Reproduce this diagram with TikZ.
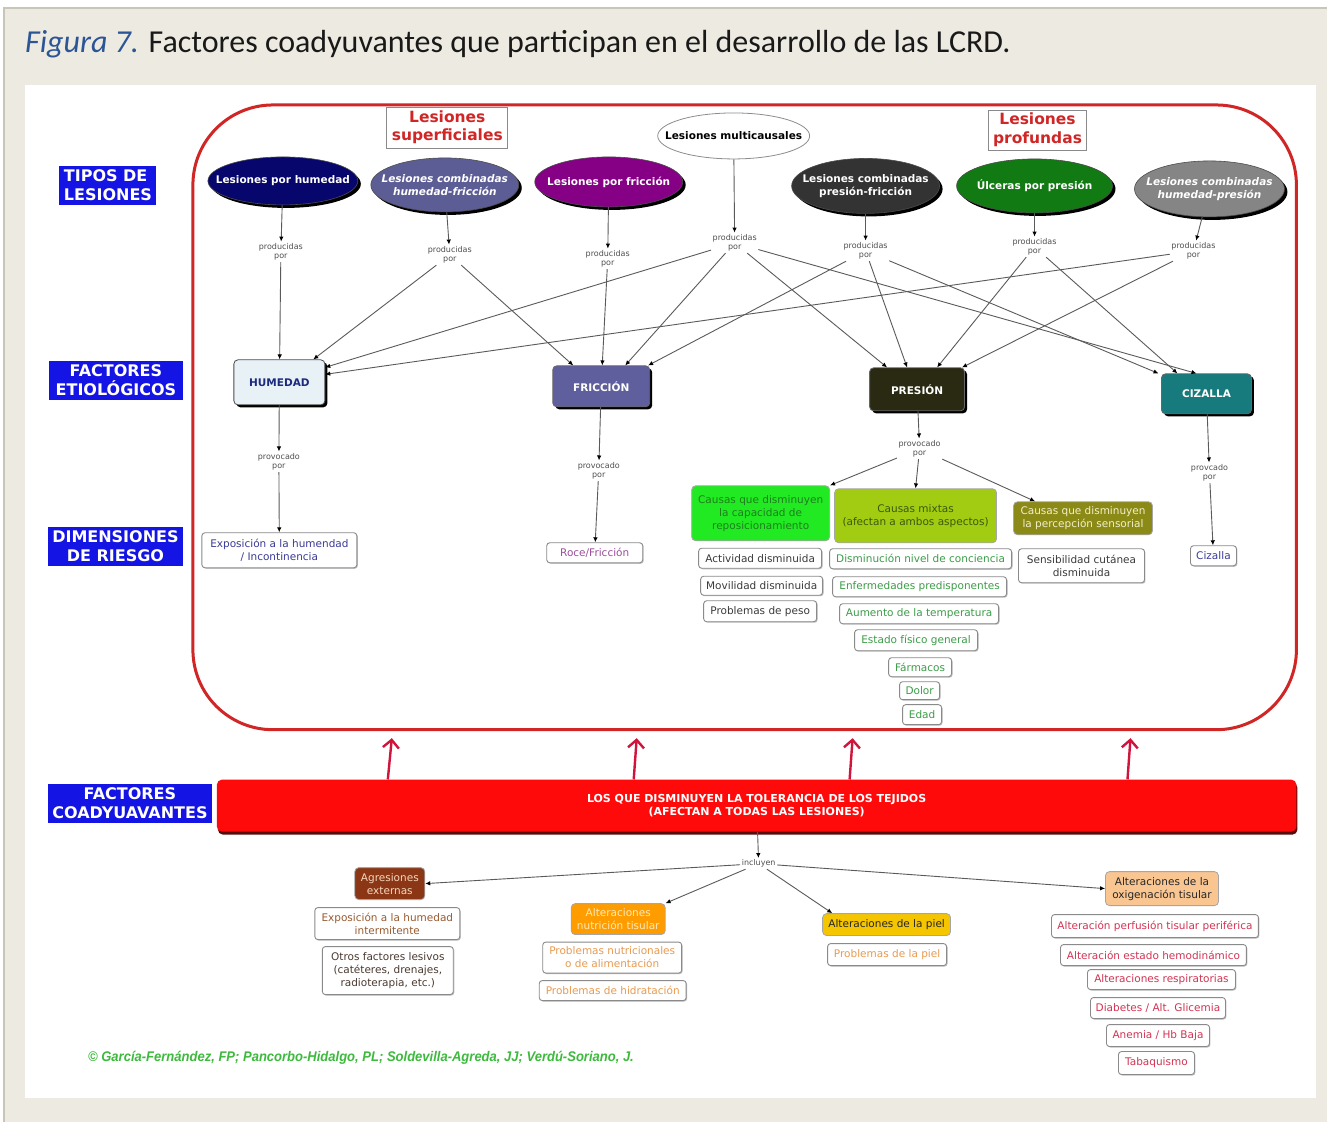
\documentclass[tikz,border=0pt]{standalone}
\usepackage{graphicx}
\usepackage{fontspec}
\setmainfont{DejaVu Sans}
\newfontfamily\captionfont{Carlito}
\newfontfamily\creditfont{Liberation Sans}
\usetikzlibrary{shapes.geometric,arrows.meta,shadows}

\definecolor{pagebg}{HTML}{EDEBE1}
\definecolor{pageedge}{HTML}{C9C6B8}
\definecolor{capblue}{HTML}{2C5596}
\definecolor{frameRed}{HTML}{D02626}
\definecolor{tagblue}{HTML}{1414E4}
\definecolor{linegrey}{HTML}{5A5A5A}
\definecolor{relgrey}{HTML}{505050}
\definecolor{ovHum}{HTML}{06066C}
\definecolor{ovHF}{HTML}{5D5D95}
\definecolor{ovFri}{HTML}{860086}
\definecolor{ovPF}{HTML}{333333}
\definecolor{ovUlc}{HTML}{127A12}
\definecolor{ovHP}{HTML}{858585}
\definecolor{fHumFill}{HTML}{E8F1F5}
\definecolor{fHumText}{HTML}{1C2A80}
\definecolor{fFriFill}{HTML}{5F5F9D}
\definecolor{fPreFill}{HTML}{2A2912}
\definecolor{fCizFill}{HTML}{177B7D}
\definecolor{dimNavy}{HTML}{3A3A96}
\definecolor{roceTxt}{HTML}{9A4E9A}
\definecolor{capGreen}{HTML}{22EA22}
\definecolor{capGreenTxt}{HTML}{1E7E1E}
\definecolor{mixFill}{HTML}{A2CC12}
\definecolor{mixTxt}{HTML}{3A5A0A}
\definecolor{senFill}{HTML}{8C8A16}
\definecolor{senTxt}{HTML}{F2F0C8}
\definecolor{listDark}{HTML}{3A3A3A}
\definecolor{mixList}{HTML}{3C9C48}
\definecolor{boxEdge}{HTML}{8A8A8A}
\definecolor{barRed}{HTML}{FF0A0A}
\definecolor{barShade}{HTML}{5A0A0A}
\definecolor{upRed}{HTML}{D0143C}
\definecolor{agFill}{HTML}{8B3614}
\definecolor{agTxt}{HTML}{F6D6BE}
\definecolor{agList}{HTML}{9A5A30}
\definecolor{agDark}{HTML}{4A3A30}
\definecolor{nuFill}{HTML}{FF9C00}
\definecolor{nuTxt}{HTML}{FFEBB8}
\definecolor{nuList}{HTML}{E89A50}
\definecolor{piFill}{HTML}{F5C500}
\definecolor{oxFill}{HTML}{F9C692}
\definecolor{oxList}{HTML}{D23452}
\definecolor{credGreen}{HTML}{3DBA3D}

\newcommand\fsBox{\fontsize{10.5}{13}\selectfont}
\newcommand\fsBar{\fontsize{11}{13}\selectfont}
\newcommand\fsRel{\fontsize{8}{9.5}\selectfont}
\newcommand\fsTag{\fontsize{16}{19}\selectfont}
\newcommand\fsOval{\fontsize{10.5}{13}\selectfont}
\newcommand\fsRegion{\fontsize{15.5}{18.5}\selectfont}

\tikzset{
  tag/.style={fill=tagblue, text=white, font=\fsTag\bfseries, align=center,
    inner sep=0pt, minimum height=39pt},
  region/.style={draw=boxEdge, fill=white, text=frameRed, font=\fsRegion\bfseries,
    align=center, inner sep=0pt, line width=0.8pt},
  ovalbase/.style={ellipse, inner sep=0pt, line width=0.6pt},
  ovalsh/.style={ovalbase, draw=black!70,
    general shadow={fill=black, shadow xshift=3pt, shadow yshift=-3pt}},
  ovtext/.style={font=\fsOval\bfseries, text=white, align=center, inner sep=0pt},
  rel/.style={font=\fsRel, text=relgrey, align=center, inner sep=1.5pt},
  conn/.style={draw=linegrey, line width=0.9pt,
    -{Latex[length=5pt,width=4.5pt,color=black]}},
  factor/.style={rounded corners=4pt, font=\fsOval\bfseries, text=white,
    draw=black!60, line width=0.8pt, inner sep=0pt,
    general shadow={fill=black, shadow xshift=2.5pt, shadow yshift=-2.5pt}},
  item/.style={draw=boxEdge, fill=white, rounded corners=3pt, font=\fsBox,
    align=center, inner sep=0pt, line width=0.9pt,
    general shadow={fill=black!25, shadow xshift=1pt, shadow yshift=-1pt}},
  cause/.style={rounded corners=4pt, font=\fsBox, align=center, inner sep=0pt,
    draw=black!35, line width=0.8pt},
  upar/.style={draw=upRed, line width=2.4pt,
    -{Straight Barb[length=8pt,width=16pt,line width=2.4pt]}},
}

\begin{document}
\begin{tikzpicture}[x=1pt,y=-1pt]
% page and panel
\fill[white] (0,0) rectangle (1328,1122);
\fill[pagebg] (4,8) rectangle (1328,1122);
\draw[pageedge, line width=1.2pt] (4,1122) -- (4,8) -- (1328,8);
\fill[white] (25,85) rectangle (1317,1098);
\useasboundingbox (0,0) rectangle (1328,1122);

% caption
\node[anchor=base west, inner sep=0pt, text=black!90,
  font=\captionfont\fontsize{32}{37}\selectfont] (title) at (25,53)
  {\textcolor{capblue}{\itshape Figura 7.} Factores coadyuvantes que participan en el desarrollo de las LCRD.};

% red frame around the lesion map
\node[draw=frameRed, line width=3pt, rounded corners=80pt, minimum width=1104pt,
  minimum height=625pt, inner sep=0pt] (frame) at (745,417.5) {};

% row headings
\node[tag, align=left, minimum width=97pt] (tTipos) at (108,185.5) {TIPOS DE\\LESIONES};
\node[tag, minimum width=134pt] (tEtio) at (116,380.5) {FACTORES\\ETIOLÓGICOS};
\node[tag, minimum width=135pt] (tDim) at (115.5,546.5) {DIMENSIONES\\DE RIESGO};
\node[tag, minimum width=164pt] (tCoad) at (130,804) {FACTORES\\COADYUAVANTES};

% group headings
\node[region, minimum width=121pt, minimum height=41pt] (rSup) at (447.5,127.5) {Lesiones\\superficiales};
\node[region, minimum width=98pt, minimum height=40pt] (rPro) at (1038,130) {Lesiones\\profundas};

% lesion types
\node[ovalsh, fill=ovHum, minimum width=150pt, minimum height=48pt] (oHum) at (283,181) {};
\node[ovtext] (oHumT) at (oHum) {Lesiones por humedad};
\node[ovalsh, fill=ovHF, minimum width=148pt, minimum height=54pt] (oHF) at (445,185) {};
\node[ovtext, font=\fsOval\bfseries\itshape] (oHFT) at (oHF) {Lesiones combinadas\\humedad-fricción};
\node[ovalsh, fill=ovFri, minimum width=148pt, minimum height=50pt] (oFri) at (609,182) {};
\node[ovtext] (oFriT) at (oFri) {Lesiones por fricción};
\node[ovalbase, fill=white, draw=black!45, line width=0.8pt, minimum width=152pt, minimum height=46pt] (oMul) at (734,136) {};
\node[ovtext, text=black] (oMulT) at (oMul) {Lesiones multicausales};
\node[ovalsh, fill=ovPF, minimum width=148pt, minimum height=55pt] (oPF) at (866,186) {};
\node[ovtext] (oPFT) at (oPF) {Lesiones combinadas\\presión-fricción};
\node[ovalsh, fill=ovUlc, minimum width=156pt, minimum height=54pt] (oUlc) at (1035,186) {};
\node[ovtext] (oUlcT) at (oUlc) {Úlceras por presión};
\node[ovalsh, fill=ovHP, minimum width=150pt, minimum height=56pt] (oHP) at (1210,189) {};
\node[ovtext, font=\fsOval\bfseries\itshape] (oHPT) at (oHP) {Lesiones combinadas\\humedad-presión};

% linking phrases
\node[rel] (pHum) at (281,252) {producidas\\por};
\node[rel] (pHF) at (450,255) {producidas\\por};
\node[rel] (pFri) at (608,259) {producidas\\por};
\node[rel] (pMul) at (735,243) {producidas\\por};
\node[rel] (pPF) at (866,251) {producidas\\por};
\node[rel] (pUlc) at (1035,247) {producidas\\por};
\node[rel] (pHP) at (1194,251) {producidas\\por};

\foreach \o/\p in {oHum/pHum, oHF/pHF, oFri/pFri, oMul/pMul, oPF/pPF, oUlc/pUlc, oHP/pHP}
  \draw[conn] (\o) -- (\p);

% etiological factors
\node[factor, fill=fHumFill, text=fHumText, draw=black!70, minimum width=91pt, minimum height=45pt] (fHum) at (279.5,382.5) {HUMEDAD};
\node[factor, fill=fFriFill, minimum width=97pt, minimum height=41pt] (fFri) at (601.5,386.5) {FRICCIÓN};
\node[factor, fill=fPreFill, minimum width=95pt, minimum height=43pt] (fPre) at (917.5,389.5) {PRESIÓN};
\node[factor, fill=fCizFill, minimum width=90pt, minimum height=40pt] (fCiz) at (1207,394) {CIZALLA};

% lesion type -> factor
\draw[conn] (pHum) -- (fHum);
\draw[conn] (pHF) -- ([xshift=-12pt]fHum.north east);
\draw[conn] (pMul) -- ([yshift=15pt]fHum.east);
\draw[conn] (pHP) -- ([yshift=8pt]fHum.east);
\draw[conn] (pHF) -- ([xshift=-28pt]fFri.north);
\draw[conn] (pFri) -- ([xshift=1pt]fFri.north);
\draw[conn] (pMul) -- ([xshift=24pt]fFri.north);
\draw[conn] (pPF) -- ([xshift=-2pt]fFri.north east);
\draw[conn] (pMul) -- ([xshift=-30pt]fPre.north);
\draw[conn] (pPF) -- ([xshift=-10pt]fPre.north);
\draw[conn] (pUlc) -- ([xshift=20pt]fPre.north);
\draw[conn] (pHP) -- ([xshift=-3pt]fPre.north east);
\draw[conn] (pPF) -- ([xshift=-48pt]fCiz.north);
\draw[conn] (pUlc) -- ([xshift=-29pt]fCiz.north);
\draw[conn] (pMul) -- ([xshift=-10pt]fCiz.north);

% risk dimensions
\node[rel] (vHum) at (279,462) {provocado\\por};
\node[rel] (vFri) at (599,471) {provocado\\por};
\node[rel] (vPre) at (920,449) {provocado\\por};
\node[rel] (vCiz) at (1210,473) {provcado\\por};

\node[item, text=dimNavy, minimum width=155pt, minimum height=35pt] (dHum) at (279.5,550.5) {Exposición a la humendad\\/ Incontinencia};
\node[item, text=roceTxt, minimum width=96pt, minimum height=20pt] (dFri) at (595,553) {Roce/Fricción};
\node[item, text=dimNavy, minimum width=46pt, minimum height=20pt] (dCiz) at (1214,556) {Cizalla};

\draw[conn] (fHum) -- (vHum);
\draw[conn] (vHum) -- (dHum);
\draw[conn] (fFri) -- (vFri);
\draw[conn] (vFri) -- (dFri);
\draw[conn] (fPre) -- (vPre);
\draw[conn] (fCiz) -- (vCiz);
\draw[conn] (vCiz) -- (dCiz);

\node[cause, fill=capGreen, text=capGreenTxt, minimum width=138pt, minimum height=55pt] (cRep) at (761,513.5) {Causas que disminuyen\\la capacidad de\\reposicionamiento};
\node[cause, fill=mixFill, text=mixTxt, minimum width=162pt, minimum height=54pt] (cMix) at (916,516) {Causas mixtas\\(afectan a ambos aspectos)};
\node[cause, fill=senFill, text=senTxt, minimum width=139pt, minimum height=33pt] (cSen) at (1083.5,518.5) {Causas que disminuyen\\la percepción sensorial};

\draw[conn] (vPre) -- (cRep.north east);
\draw[conn] (vPre) -- (cMix.north);
\draw[conn] (vPre) -- ([xshift=-48pt]cSen.north);

% causes of reduced repositioning
\node[item, text=listDark, minimum width=123pt, minimum height=20pt] (rAct) at (760.5,558.5) {Actividad disminuida};
\node[item, text=listDark, minimum width=122pt, minimum height=19pt] (rMov) at (762,586) {Movilidad disminuida};
\node[item, text=listDark, minimum width=113pt, minimum height=21pt] (rPes) at (760.5,611.5) {Problemas de peso};
% mixed causes
\node[item, text=mixList, minimum width=182pt, minimum height=20pt] (mCon) at (921,559) {Disminución nivel de conciencia};
\node[item, text=mixList, minimum width=174pt, minimum height=20pt] (mEnf) at (920,587) {Enfermedades predisponentes};
\node[item, text=mixList, minimum width=159pt, minimum height=20pt] (mTem) at (919.5,614) {Aumento de la temperatura};
\node[item, text=mixList, minimum width=123pt, minimum height=21pt] (mEst) at (916.5,640.5) {Estado físico general};
\node[item, text=mixList, minimum width=63pt, minimum height=19pt] (mFar) at (920.5,667.5) {Fármacos};
\node[item, text=mixList, minimum width=40pt, minimum height=18pt] (mDol) at (920,691) {Dolor};
\node[item, text=mixList, minimum width=39pt, minimum height=20pt] (mEda) at (922.5,715) {Edad};
% sensory causes
\node[item, text=listDark, minimum width=126pt, minimum height=34pt] (sCut) at (1082,566) {Sensibilidad cutánea\\disminuida};

% contributing factors bar
\node[fill=barRed, rounded corners=5pt, minimum width=1080pt, minimum height=52pt,
  general shadow={fill=barShade, shadow xshift=1pt, shadow yshift=-3pt},
  text=white, font=\fsBar\bfseries, align=center, inner sep=0pt] (bar) at (757,806)
  {LOS QUE DISMINUYEN LA TOLERANCIA DE LOS TEJIDOS\\(AFECTAN A TODAS LAS LESIONES)};

\draw[upar] ([xshift=-369pt]bar.north) -- ([xshift=-353pt,yshift=-7pt]frame.south);
\draw[upar] ([xshift=-123pt]bar.north) -- ([xshift=-108pt,yshift=-7pt]frame.south);
\draw[upar] ([xshift=93pt]bar.north) -- ([xshift=108pt,yshift=-7pt]frame.south);
\draw[upar] ([xshift=371pt]bar.north) -- ([xshift=386pt,yshift=-7pt]frame.south);

\node[rel] (incl) at (759,864) {incluyen};
\draw[conn] (bar) -- (incl);

\node[cause, fill=agFill, text=agTxt, minimum width=70pt, minimum height=32pt] (bAg) at (390,884) {Agresiones\\externas};
\node[cause, fill=nuFill, text=nuTxt, minimum width=94pt, minimum height=31pt] (bNu) at (618.5,919.5) {Alteraciones\\nutrición tisular};
\node[cause, fill=piFill, text=black!85, minimum width=128pt, minimum height=22pt] (bPi) at (887,925) {Alteraciones de la piel};
\node[cause, fill=oxFill, text=black!85, minimum width=113pt, minimum height=34pt] (bOx) at (1162.5,889) {Alteraciones de la\\oxigenación tisular};

\draw[conn] (incl) -- (bAg.east);
\draw[conn] (incl) -- (bNu.north east);
\draw[conn] (incl) -- ([xshift=10pt]bPi.north west);
\draw[conn] (incl) -- (bOx.west);

\node[item, text=agList, minimum width=145pt, minimum height=32pt] (aExp) at (387.5,924) {Exposición a la humedad\\intermitente};
\node[item, text=agDark, minimum width=131pt, minimum height=48pt] (aOtr) at (388,971) {Otros factores lesivos\\(catéteres, drenajes,\\radioterapia, etc.)};
\node[item, text=nuList, minimum width=139pt, minimum height=31pt] (nPro) at (612.5,958) {Problemas nutricionales\\o de alimentación};
\node[item, text=nuList, minimum width=147pt, minimum height=20pt] (nHid) at (613,991) {Problemas de hidratación};
\node[item, text=nuList, minimum width=119pt, minimum height=22pt] (piPro) at (887.5,955) {Problemas de la piel};

\node[item, text=oxList, minimum width=207pt, minimum height=23pt] (xPer) at (1155.5,926.5) {Alteración perfusión tisular periférica};
\node[item, text=oxList, minimum width=186pt, minimum height=21pt] (xHem) at (1154,955.5) {Alteración estado hemodinámico};
\node[item, text=oxList, minimum width=148pt, minimum height=20pt] (xRes) at (1162,980) {Alteraciones respiratorias};
\node[item, text=oxList, minimum width=135pt, minimum height=21pt] (xDia) at (1158.5,1008.5) {Diabetes / Alt. Glicemia};
\node[item, text=oxList, minimum width=103pt, minimum height=22pt] (xAne) at (1158.5,1036) {Anemia / Hb Baja};
\node[item, text=oxList, minimum width=76pt, minimum height=23pt] (xTab) at (1157,1063.5) {Tabaquismo};

% credit line
\node[anchor=west, inner sep=0pt, text=credGreen,
  font=\creditfont\bfseries\itshape\fontsize{14}{16}\selectfont] (cred) at (88,1058)
  {\scalebox{0.93}[1]{© García-Fernández, FP; Pancorbo-Hidalgo, PL; Soldevilla-Agreda, JJ; Verdú-Soriano, J.}};
\end{tikzpicture}
\end{document}
